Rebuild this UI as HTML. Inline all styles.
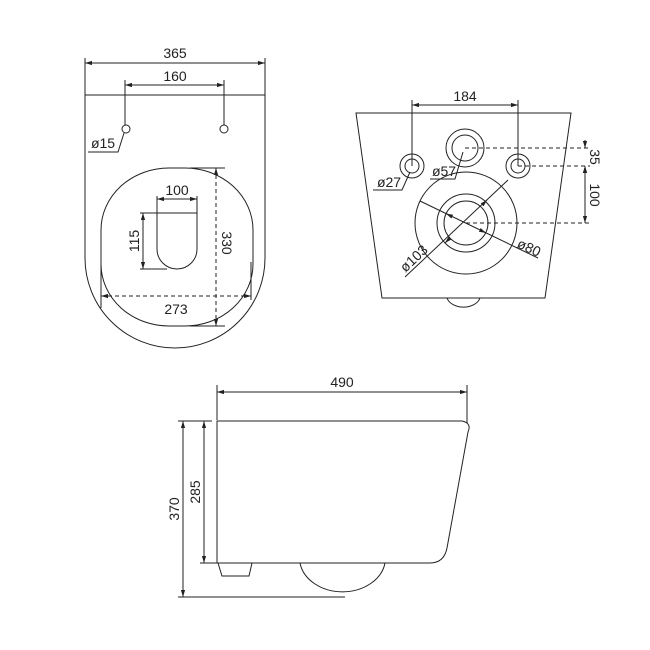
<!DOCTYPE html>
<html><head><style>body{margin:0;background:#fff}svg{display:block}text{font-family:"Liberation Sans",sans-serif;font-size:14px;fill:#222}</style></head>
<body>
<svg width="650" height="650" viewBox="0 0 650 650" xmlns="http://www.w3.org/2000/svg">
<defs>
<marker id="a" viewBox="0 0 10 10" refX="10" refY="5" markerWidth="7" markerHeight="7" orient="auto-start-reverse"><path d="M0,2L10,5L0,8z" fill="#222"/></marker>
</defs>
<g fill="none" stroke="#222" stroke-width="1">
<path d="M85,95H265V258A90,90 0 0 1 85,258Z"/>
<line x1="85" y1="58" x2="85" y2="95"/><line x1="265" y1="58" x2="265" y2="95"/>
<line x1="85" y1="63" x2="265" y2="63" marker-start="url(#a)" marker-end="url(#a)"/>
<line x1="125" y1="80" x2="125" y2="125"/><line x1="224" y1="80" x2="224" y2="125"/>
<line x1="125" y1="85" x2="224" y2="85" marker-start="url(#a)" marker-end="url(#a)"/>
<circle cx="126" cy="129" r="4"/><circle cx="224" cy="129" r="4"/>
<polyline points="124,133 118,152 88,152"/>
<rect x="101" y="168" width="152" height="158" rx="68" ry="62"/>
<path d="M157,213H197V249A20,20 0 0 1 157,249Z"/>
<line x1="157" y1="199" x2="197" y2="199" marker-start="url(#a)" marker-end="url(#a)"/>
<line x1="157" y1="196" x2="157" y2="213"/><line x1="197" y1="196" x2="197" y2="213"/>
<line x1="143" y1="213" x2="143" y2="269" marker-start="url(#a)" marker-end="url(#a)"/>
<line x1="140" y1="213" x2="157" y2="213"/><line x1="140" y1="269" x2="167" y2="269"/>
<line x1="216" y1="168" x2="216" y2="326" stroke-dasharray="4,3" marker-start="url(#a)" marker-end="url(#a)"/>
<line x1="190" y1="168" x2="225" y2="168"/><line x1="190" y1="326" x2="225" y2="326"/>
<line x1="101" y1="296" x2="251" y2="296" stroke-dasharray="4,3" marker-start="url(#a)" marker-end="url(#a)"/>
<line x1="101" y1="262" x2="101" y2="308"/><line x1="251" y1="262" x2="251" y2="300"/>
<path d="M356,113H571L545,298H382Z"/>
<path d="M447,298A17,12 0 0 0 480,298"/>
<circle cx="465" cy="148" r="19"/><circle cx="465" cy="148" r="13"/>
<circle cx="412" cy="166" r="12"/><circle cx="412" cy="166" r="7"/>
<circle cx="518" cy="166" r="12"/><circle cx="518" cy="166" r="7"/>
<circle cx="466" cy="223" r="51"/><circle cx="466" cy="223" r="29"/><circle cx="466" cy="223" r="22"/>
<line x1="412" y1="100" x2="412" y2="166"/><line x1="518" y1="100" x2="518" y2="166"/>
<line x1="412" y1="105" x2="518" y2="105" marker-start="url(#a)" marker-end="url(#a)"/>
<g stroke-dasharray="4,3"><line x1="465" y1="148" x2="590" y2="148"/><line x1="518" y1="166" x2="590" y2="166"/><line x1="466" y1="223" x2="592" y2="223"/></g>
<line x1="585" y1="140" x2="585" y2="148" marker-end="url(#a)"/>
<line x1="585" y1="174" x2="585" y2="166" marker-end="url(#a)"/>
<line x1="585" y1="166" x2="585" y2="223" marker-start="url(#a)" marker-end="url(#a)"/>
<polyline points="410,172 402,190 373,190"/>
<polyline points="463,152 455,179 430,179"/>
<path d="M420,201L538,258"/>
<line x1="452" y1="216.5" x2="446" y2="213.6" marker-end="url(#a)"/>
<line x1="480" y1="230" x2="486" y2="232.9" marker-end="url(#a)"/>
<line x1="508" y1="180" x2="405" y2="277"/>
<line x1="482" y1="205" x2="487" y2="200" marker-end="url(#a)"/>
<line x1="450" y1="238" x2="445" y2="243" marker-end="url(#a)"/>
<path d="M217,421H462Q472,423 468,432L447,548Q444,563 430,563H217Z"/>
<path d="M300,563A43,34 0 0 0 385,563"/>
<path d="M218,563L222,576H249L252,563"/>
<line x1="217" y1="385" x2="217" y2="420"/><line x1="467" y1="385" x2="467" y2="423"/>
<line x1="217" y1="392" x2="467" y2="392" marker-start="url(#a)" marker-end="url(#a)"/>
<line x1="178" y1="421" x2="212" y2="421"/><line x1="200" y1="563" x2="217" y2="563"/><line x1="178" y1="597" x2="345" y2="597"/>
<line x1="204" y1="421" x2="204" y2="563" marker-start="url(#a)" marker-end="url(#a)"/>
<line x1="183" y1="421" x2="183" y2="597" marker-start="url(#a)" marker-end="url(#a)"/>
</g>
<text x="175" y="58" text-anchor="middle">365</text>
<text x="175" y="81" text-anchor="middle">160</text>
<text x="103" y="148" text-anchor="middle">ø15</text>
<text x="177" y="195" text-anchor="middle">100</text>
<text transform="translate(139,241) rotate(-90)" text-anchor="middle">115</text>
<text transform="translate(222,243) rotate(90)" text-anchor="middle">330</text>
<text x="176" y="314" text-anchor="middle">273</text>
<text x="465" y="101" text-anchor="middle">184</text>
<text x="389" y="187" text-anchor="middle">ø27</text>
<text x="444" y="176" text-anchor="middle">ø57</text>
<text transform="translate(590,157) rotate(90)" text-anchor="middle">35</text>
<text transform="translate(590,195) rotate(90)" text-anchor="middle">100</text>
<text transform="translate(527,252) rotate(25)" text-anchor="middle">ø80</text>
<text transform="translate(417,262) rotate(-43)" text-anchor="middle">ø103</text>
<text x="342" y="387" text-anchor="middle">490</text>
<text transform="translate(200,492) rotate(-90)" text-anchor="middle">285</text>
<text transform="translate(179,509) rotate(-90)" text-anchor="middle">370</text>
</svg>
</body></html>
